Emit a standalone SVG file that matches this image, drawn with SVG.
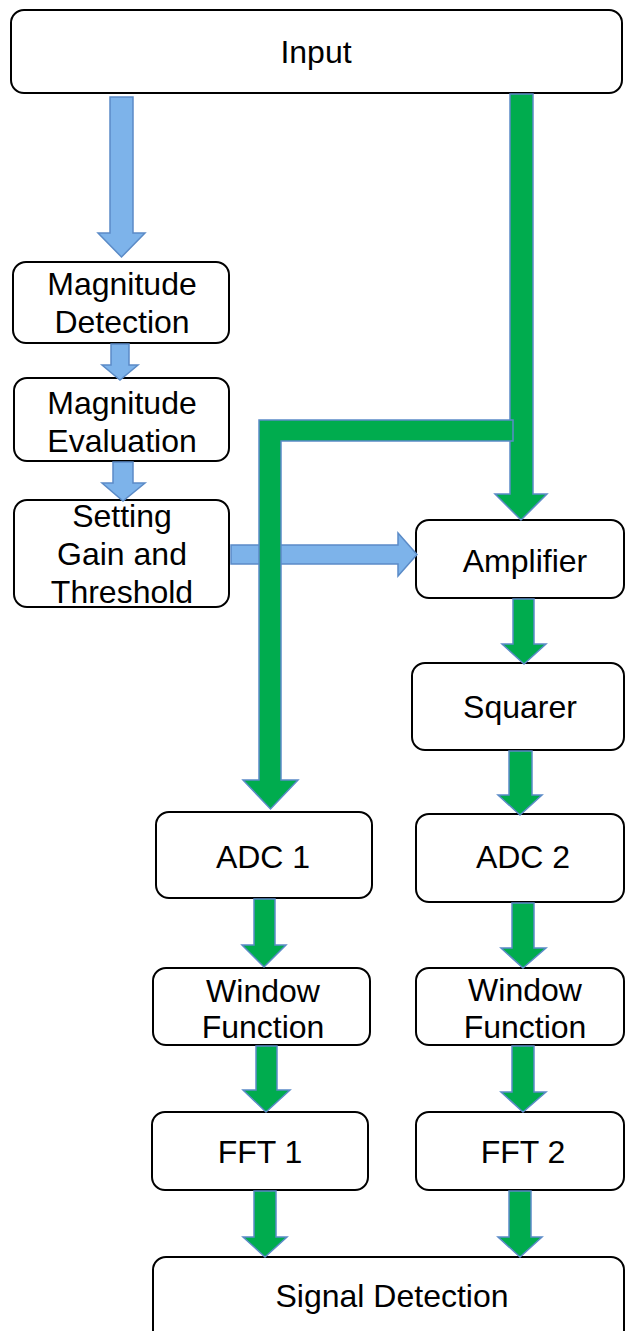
<svg xmlns="http://www.w3.org/2000/svg" width="626" height="1331" viewBox="0 0 626 1331">
<style>
.box{fill:#fff;stroke:#000;stroke-width:2}
.t{font-family:"Liberation Sans",Arial,sans-serif;font-size:32px;fill:#000;text-anchor:middle}
.blue{fill:#7DB3EA;stroke:#5B8BC7;stroke-width:1.5}
.green{fill:#00AC4E;stroke:#5B8BC7;stroke-width:1.5}
</style>
<rect width="626" height="1331" fill="#fff"/>
<g id="nodes">
<g id="input"><rect class="box" x="11" y="10" width="611" height="83" rx="13"/><text class="t" x="316" y="63" font-size="31">Input</text></g>
<g id="magdet"><rect class="box" x="13" y="262" width="216" height="81" rx="13"/><text class="t" x="122" y="295">Magnitude</text><text class="t" x="122" y="333">Detection</text></g>
<g id="mageval"><rect class="box" x="14" y="378" width="215" height="83" rx="13"/><text class="t" x="122" y="414">Magnitude</text><text class="t" x="122" y="452">Evaluation</text></g>
<g id="setgain"><rect class="box" x="14" y="500" width="215" height="107" rx="13"/><text class="t" x="122" y="527">Setting</text><text class="t" x="122" y="565">Gain and</text><text class="t" x="122" y="603">Threshold</text></g>
<g id="amp"><rect class="box" x="416" y="520" width="208" height="78" rx="13"/><text class="t" x="525" y="572">Amplifier</text></g>
<g id="squarer"><rect class="box" x="412" y="663" width="212" height="87" rx="13"/><text class="t" x="520" y="718">Squarer</text></g>
<g id="adc1"><rect class="box" x="156" y="812" width="216" height="86" rx="13"/><text class="t" x="263" y="868">ADC 1</text></g>
<g id="adc2"><rect class="box" x="416" y="814" width="208" height="88" rx="13"/><text class="t" x="523" y="868">ADC 2</text></g>
<g id="wf1"><rect class="box" x="153" y="968" width="217" height="77" rx="13"/><text class="t" x="263" y="1002">Window</text><text class="t" x="263" y="1038">Function</text></g>
<g id="wf2"><rect class="box" x="416" y="968" width="208" height="77" rx="13"/><text class="t" x="525" y="1001">Window</text><text class="t" x="525" y="1038">Function</text></g>
<g id="fft1"><rect class="box" x="152" y="1112" width="216" height="78" rx="13"/><text class="t" x="260" y="1163">FFT 1</text></g>
<g id="fft2"><rect class="box" x="416" y="1112" width="208" height="78" rx="13"/><text class="t" x="523" y="1163">FFT 2</text></g>
<g id="sigdet"><rect class="box" x="153" y="1257" width="471" height="95" rx="13"/><text class="t" x="392" y="1307">Signal Detection</text></g>
</g>
<g id="connectors">
<polygon class="blue" points="110,97 133,97 133,233 145,233 121.5,257 98,233 110,233"/>
<polygon class="blue" points="111,344 129,344 129,365 138,365 120,380 102,365 111,365"/>
<polygon class="blue" points="113,462 133,462 133,483 145,483 123,501 102,483 113,483"/>
<polygon class="blue" points="231,545 398,545 398,533 417,554.5 398,576 398,564 231,564"/>
<polygon class="green" points="510,94 533,94 533,494 547,494 521,520 495,494 510,494"/>
<polygon class="green" points="513,420 259,420 259,780 243,780 270.5,809 298,780 281,780 281,441 513,441"/>
<polygon class="green" points="513,599 534,599 534,644 546,644 524,664 502,644 513,644"/>
<polygon class="green" points="509,751 532,751 532,795 542,795 520,815 498,795 509,795"/>
<polygon class="green" points="254,899 275,899 275,945 286,945 264,967 242,945 254,945"/>
<polygon class="green" points="512,903 534,903 534,948 546,948 523,968 501,948 512,948"/>
<polygon class="green" points="256,1046 277,1046 277,1090 290,1090 266,1112 243,1090 256,1090"/>
<polygon class="green" points="512,1046 534,1046 534,1092 546,1092 523,1112 501,1092 512,1092"/>
<polygon class="green" points="254,1191 276,1191 276,1237 287,1237 265,1257 243,1237 254,1237"/>
<polygon class="green" points="509,1191 531,1191 531,1237 542,1237 520,1257 498,1237 509,1237"/>
</g>
</svg>
